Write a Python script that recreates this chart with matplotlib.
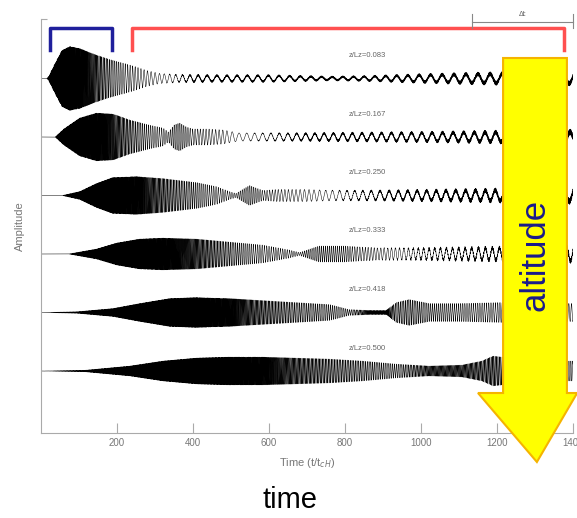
import numpy as np
import matplotlib.pyplot as plt
from matplotlib.patches import Polygon

# dispersion traces at six heights, amplitude (px-like units)
labels = ['z/Lz=0.083', 'z/Lz=0.167', 'z/Lz=0.250', 'z/Lz=0.333', 'z/Lz=0.418', 'z/Lz=0.500']

# trace 1
t1 = [0, 15, 20, 37, 55, 76, 102, 142, 181, 220, 247, 278, 312, 365, 450, 600, 760, 850, 1000, 1150, 1300, 1400]
amp1 = [0, 0, 2, 15, 28, 32, 30, 24, 19, 15, 12, 8, 5, 3.5, 3, 3, 1.5, 2, 3.5, 4.5, 5, 5]
per1 = [2, 2, 2, 2, 2, 2, 2.2, 3, 4.5, 6, 7, 9, 12, 18, 26, 28, 28, 28, 30, 32, 32, 32]
ft1 = [0, 300, 400, 760, 850, 1000, 1200, 1400]
fz1 = [0, 0, 1, 1, 1, 1.5, 2.2, 2.5]

# trace 2
t2 = [0, 37, 60, 102, 146, 190, 234, 285, 321, 335, 350, 365, 383, 400, 440, 480, 520, 700, 900, 1100, 1250, 1400]
amp2 = [0, 0, 8, 19, 24, 23, 17, 12, 9, 5, 12, 14, 10, 8, 8, 7, 4, 3.5, 4, 4.5, 5, 5]
per2 = [2, 2, 2, 2, 2.2, 2.8, 4, 5.5, 6, 5.5, 5, 5, 5.5, 6.5, 8, 10, 20, 24, 26, 28, 28, 28]
ft2 = [0, 500, 700, 1000, 1200, 1400]
fz2 = [0, 0, 1, 1.5, 2.2, 3]

# trace 3
t3 = [0, 55, 102, 146, 189, 251, 321, 409, 461, 496, 513, 530, 549, 584, 620, 700, 760, 900, 1100, 1250, 1400]
amp3 = [0, 0, 4, 12, 18, 19, 17, 13, 9, 4, 2, 6, 10, 5, 6, 6, 5, 4.5, 5, 5.5, 6]
per3 = [2, 2, 2, 2, 2, 2.3, 3.5, 5, 6, 6, 5.5, 5, 5, 6, 8, 12, 18, 24, 26, 26, 26]
ft3 = [0, 700, 900, 1100, 1400]
fz3 = [0, 0, 1.2, 2, 3]

# trace 4
t4 = [0, 72, 146, 199, 260, 321, 409, 496, 583, 654, 680, 700, 732, 800, 840, 900, 1000, 1150, 1300, 1400]
amp4 = [0, 0, 5, 11, 15, 16, 15, 12, 9, 4, 1.5, 4, 8, 8, 7, 6, 5.5, 6, 6.5, 7]
per4 = [2, 2, 2, 2, 2, 2.2, 3, 4.5, 6, 6, 5.5, 5, 5, 5.5, 7, 9, 14, 18, 20, 20]
ft4 = [0, 850, 1000, 1200, 1400]
fz4 = [0, 0, 1.2, 2, 2.5]

# trace 5
t5 = [0, 94, 189, 260, 339, 409, 496, 583, 671, 759, 811, 870, 908, 935, 969, 1022, 1100, 1213, 1300, 1400]
amp5 = [0, 0.8, 4, 9, 14, 15, 14, 12, 10, 8, 3, 2, 2, 10, 13, 9, 9, 10, 9, 9]
per5 = [2, 2, 2, 2, 2, 2, 2.4, 3.5, 4.5, 5, 5, 2, 2, 4.5, 4.5, 5, 5.5, 6, 7, 7]
ft5 = [0, 1400]
fz5 = [0, 0]

# trace 6
t6 = [0, 115, 234, 321, 409, 496, 583, 672, 759, 846, 934, 1021, 1108, 1160, 1190, 1213, 1300, 1400]
amp6 = [0, 0.8, 5, 10, 13, 14, 14, 13, 12, 10, 7, 5, 6, 10, 15, 14, 10, 10]
per6 = [2, 2, 2, 2, 2, 2, 2.4, 3.2, 4, 4.5, 5, 3, 3, 3.5, 3.5, 4, 5, 5]
ft6 = [0, 1400]
fz6 = [0, 0]

xticks = [200, 400, 600, 800, 1000, 1200, 1400]

traces = [(t1, amp1, per1, ft1, fz1), (t2, amp2, per2, ft2, fz2), (t3, amp3, per3, ft3, fz3),
          (t4, amp4, per4, ft4, fz4), (t5, amp5, per5, ft5, fz5), (t6, amp6, per6, ft6, fz6)]


def build(tk, ak, pk, ftk, fzk, dt=0.1):
    t = np.arange(0, 1400 + dt / 2, dt)
    a = np.interp(t, tk, ak)
    p = np.interp(t, tk, pk)
    f = np.interp(t, ftk, fzk)
    phase = np.cumsum(2 * np.pi / p * dt)
    return t, a * np.sin(phase) + f * np.sin(2 * np.pi * t / 1.7)


fig = plt.figure(figsize=(5.77, 5.18), dpi=100)
ax = fig.add_axes([41 / 577, 85 / 518, 532 / 577, 414 / 518])

spacing = 58.5
for k, tr in enumerate(traces):
    base = 62 + (5 - k) * spacing
    t, s = build(*tr)
    ax.plot(t, base + s, color='black', lw=0.35)
    ax.text(860, base + 23, labels[k], fontsize=5.5, color='#666666',
            ha='center', va='center', family='Liberation Sans')

ax.set_xlim(0, 1400)
ax.set_ylim(0, 414)
for sp in ['top', 'right']:
    ax.spines[sp].set_visible(False)
for sp in ['left', 'bottom']:
    ax.spines[sp].set_color('#aaaaaa')
ax.set_xticks(xticks)
ax.set_xticklabels([str(v) for v in xticks], fontsize=7, color='#777777', family='Liberation Sans')
ax.set_yticks([414])
ax.set_yticklabels([''])
ax.tick_params(direction='in', length=7, color='#aaaaaa')
ax.tick_params(axis='y', length=4)
ax.set_xlabel('Time (t/t$_{cH}$)', fontsize=8, color='#777777', family='Liberation Sans', labelpad=6)
ax.set_ylabel('Amplitude', fontsize=8, color='#777777', family='Liberation Sans', labelpad=8)

# brackets
ax.plot([24, 24, 187, 187], [383, 405, 405, 383], color='#1f1f9c', lw=2.5, clip_on=False)
ax.plot([239, 239, 1376, 1376], [383, 405, 405, 383], color='#ff5050', lw=2.5, clip_on=False)

# delta t marker
ax.plot([1134, 1400], [411, 411], color='#888888', lw=0.8, clip_on=False)
ax.plot([1134, 1134], [405, 419], color='#888888', lw=0.8, clip_on=False)
ax.plot([1400, 1400], [405, 419], color='#888888', lw=0.8, clip_on=False)
ax.text(1267, 419, 'Δt', fontsize=5, color='#666666', ha='center', va='center')

# altitude arrow
arrow = Polygon([[1216, 375], [1384, 375], [1384, 40], [1411, 40], [1305, -29],
                 [1150, 40], [1216, 40]], closed=True, facecolor='#ffff00',
                edgecolor='#f5b400', lw=1.5, clip_on=False, zorder=5)
ax.add_patch(arrow)
ax.text(1300, 178, 'altitude', rotation=90, fontsize=25, color='#1a1a8c',
        ha='center', va='center', family='Liberation Sans', zorder=6)

fig.text(290 / 577, 1 - 500 / 518, 'time', fontsize=21, color='black',
         ha='center', va='center', family='Liberation Sans')

fig.savefig('out.png', dpi=100)
